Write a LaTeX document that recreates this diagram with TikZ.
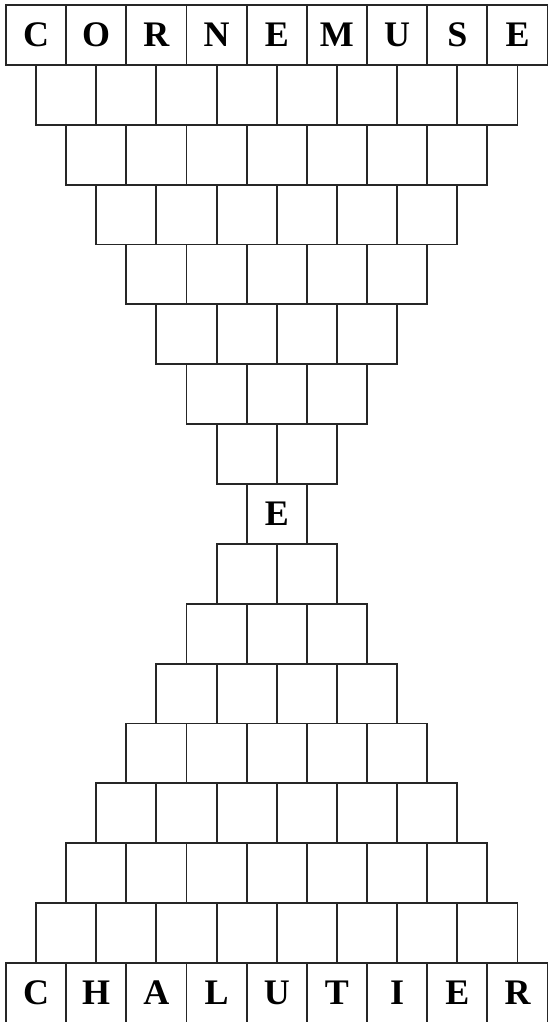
\documentclass[tikz,border=0pt]{standalone}
\usepackage{fontspec}
\setmainfont{Liberation Serif}
\usetikzlibrary{positioning}

\begin{document}
\begin{tikzpicture}[
  cell/.style={
    draw=black!85, line width=0.9pt,
    minimum width=1cm, minimum height=0.995cm,
    inner sep=0pt, anchor=north west,
    font=\fontsize{17}{17}\selectfont\bfseries
  },
]

% ---- geometry ----
\def\cw{1}      % cell width
\def\ch{0.995}  % cell height

\useasboundingbox (-0.083,0.066) rectangle (9.02,-16.915);

% =====================================================
% UPPER FUNNEL: 9 cells down to the single middle cell
% =====================================================
\foreach \c/\l in {0/C,1/O,2/R,3/N,4/E,5/M,6/U,7/S,8/E} {
  \node[cell] (top-0-\c) at ({\c*\cw},0) {\l};
}
\foreach \r in {1,...,7} {
  \pgfmathtruncatemacro\n{8-\r}
  \foreach \c in {0,...,\n} {
    \node[cell] (top-\r-\c) at ({\r*0.5*\cw+\c*\cw},{-\r*\ch}) {};
  }
}
\node[cell] (mid) at ({4*\cw},{-8*\ch}) {E};

% =====================================================
% LOWER FUNNEL: 2 cells widening to the bottom word
% =====================================================
\foreach \r in {9,...,15} {
  \pgfmathtruncatemacro\n{\r-8}
  \foreach \c in {0,...,\n} {
    \node[cell] (bot-\r-\c) at ({(16-\r)*0.5*\cw+\c*\cw},{-\r*\ch}) {};
  }
}
\foreach \c/\l in {0/C,1/H,2/A,3/L,4/U,5/T,6/I,7/E,8/R} {
  \node[cell] (bot-16-\c) at ({\c*\cw},{-16*\ch}) {\l};
}

\end{tikzpicture}
\end{document}
